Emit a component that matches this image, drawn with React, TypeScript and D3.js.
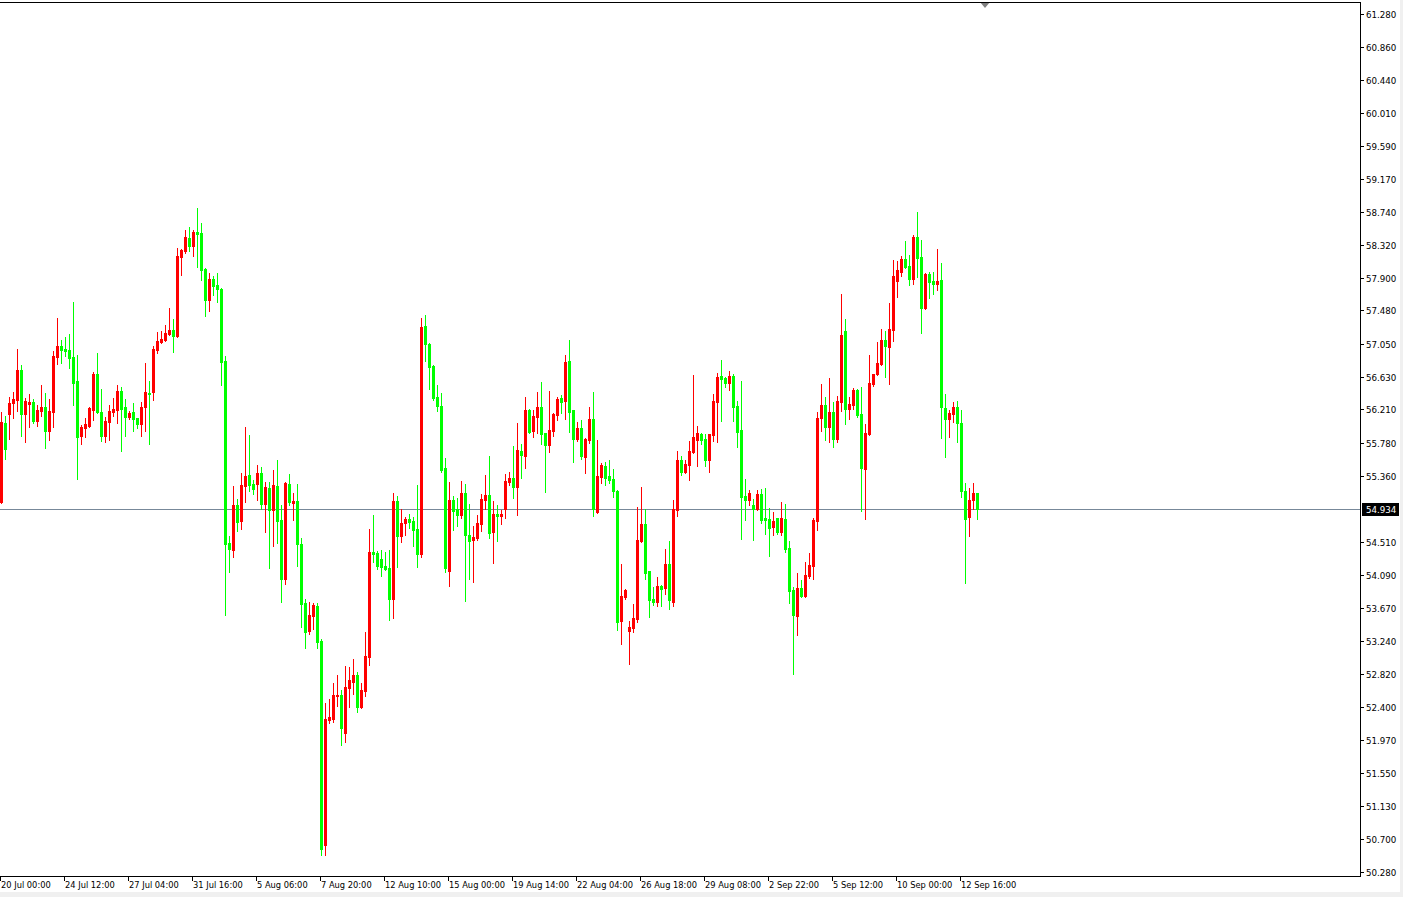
import React from "react";
import * as d3 from "d3";

// H4 candles (price units)
const opens = [
  55.02, 56.04, 56.15, 56.29, 56.33, 56.71, 56.15, 56.28, 56.31, 56.06,
  56.19, 56.24, 55.93, 56.18, 56.88, 57.02, 56.98, 56.97, 56.88, 56.57,
  55.87, 55.97, 56.00, 56.20, 56.66, 56.18, 55.87, 56.05, 56.18, 56.20,
  56.45, 56.24, 56.11, 56.18, 56.10, 56.02, 56.24, 56.42, 56.43, 56.97,
  57.07, 57.10, 57.18, 57.23, 57.15, 58.16, 58.24, 58.41, 58.31, 58.49,
  58.47, 58.01, 57.61, 57.88, 57.81, 57.75, 56.83, 54.50, 54.41, 54.98,
  54.78, 55.23, 55.37, 55.25, 55.25, 55.40, 55.00, 55.20, 54.92, 55.23,
  54.79, 54.04, 55.25, 55.01, 55.04, 54.48, 53.73, 53.37, 53.56, 53.69,
  53.24, 50.63, 52.23, 52.24, 52.54, 52.55, 52.06, 52.64, 52.72, 52.80,
  52.39, 52.60, 53.04, 54.38, 54.37, 54.29, 54.20, 54.18, 53.78, 55.04,
  54.59, 54.75, 54.81, 54.78, 54.68, 54.36, 57.28, 57.05, 56.77, 56.37,
  56.25, 55.46, 54.14, 55.05, 54.93, 54.86, 55.14, 54.60, 54.54, 54.56,
  54.74, 55.05, 55.11, 54.64, 54.87, 54.84, 54.93, 55.28, 55.33, 55.22,
  55.68, 55.61, 56.20, 55.93, 56.11, 56.24, 55.91, 55.75, 55.93, 56.14,
  56.36, 56.32, 56.83, 56.20, 55.83, 55.97, 55.60, 55.82, 56.09, 54.89,
  55.34, 55.49, 55.36, 55.32, 55.17, 53.50, 53.81, 53.37, 53.41, 53.52,
  54.52, 54.74, 54.14, 53.78, 53.74, 53.95, 53.92, 54.23, 53.74, 54.92,
  55.56, 55.41, 55.50, 55.66, 55.82, 55.90, 55.83, 55.56, 55.88, 56.31,
  56.64, 56.61, 56.55, 56.64, 56.25, 55.95, 55.10, 55.05, 54.98, 54.93,
  55.13, 54.82, 54.81, 54.70, 54.82, 54.64, 54.81, 54.43, 53.90, 53.56,
  53.92, 53.82, 54.07, 54.20, 54.78, 56.10, 56.27, 55.98, 56.18, 55.83,
  56.31, 57.22, 56.22, 56.27, 56.46, 56.15, 55.45, 55.90, 56.54, 56.66,
  56.79, 57.10, 57.01, 57.23, 57.86, 57.97, 58.14, 58.05, 57.88, 58.42,
  58.16, 57.51, 57.95, 57.86, 57.82, 57.87, 56.23, 56.09, 56.15, 56.24,
  56.04, 55.17, 54.83, 55.05, 55.14,
];

const highs = [
  56.18, 56.13, 56.37, 56.43, 56.98, 56.78, 56.36, 56.41, 56.34, 56.27,
  56.52, 56.42, 56.34, 56.96, 57.38, 57.10, 57.14, 57.18, 57.59, 56.91,
  56.01, 56.10, 56.24, 56.69, 56.93, 56.47, 56.11, 56.27, 56.36, 56.52,
  56.50, 56.34, 56.19, 56.29, 56.10, 56.31, 56.81, 56.57, 57.02, 57.20,
  57.22, 57.29, 57.51, 57.37, 58.28, 58.27, 58.51, 58.55, 58.51, 58.79,
  58.60, 58.02, 57.96, 57.92, 57.96, 57.77, 56.90, 54.59, 55.23, 55.06,
  55.40, 55.98, 55.88, 55.31, 55.50, 55.47, 55.28, 55.28, 55.43, 55.56,
  54.98, 55.28, 55.38, 55.14, 55.25, 54.56, 53.78, 53.74, 53.73, 53.73,
  53.27, 52.45, 52.50, 52.70, 52.80, 52.61, 52.92, 52.91, 53.01, 52.84,
  52.70, 53.36, 54.68, 54.86, 54.40, 54.41, 54.38, 54.41, 55.14, 55.10,
  54.93, 54.83, 54.87, 54.83, 55.24, 57.38, 57.42, 57.06, 56.78, 56.52,
  56.42, 55.59, 55.28, 55.10, 55.07, 55.29, 55.25, 55.00, 54.71, 54.86,
  55.13, 55.37, 55.61, 55.04, 54.98, 54.92, 55.38, 55.41, 55.74, 56.04,
  55.77, 56.37, 56.22, 56.20, 56.43, 56.56, 55.91, 56.45, 56.16, 56.37,
  56.40, 56.91, 57.10, 56.20, 56.05, 56.07, 55.84, 56.24, 56.43, 55.82,
  55.52, 55.54, 55.56, 55.45, 55.18, 54.23, 53.91, 53.50, 53.72, 54.96,
  55.22, 54.93, 54.14, 53.93, 54.06, 53.96, 54.42, 54.52, 55.05, 55.68,
  55.61, 55.56, 55.81, 56.65, 56.00, 55.91, 55.90, 55.90, 56.41, 56.68,
  56.84, 56.63, 56.70, 56.66, 56.32, 56.57, 55.32, 55.18, 55.06, 55.18,
  55.19, 55.20, 54.95, 54.89, 54.82, 55.02, 55.00, 54.52, 53.93, 54.11,
  54.02, 54.25, 54.37, 54.82, 56.18, 56.54, 56.37, 56.61, 56.31, 56.38,
  57.69, 57.37, 56.37, 56.49, 56.47, 56.50, 56.02, 56.91, 56.66, 57.07,
  57.24, 57.22, 57.57, 58.13, 58.11, 58.18, 58.37, 58.19, 58.45, 58.74,
  58.38, 57.96, 57.97, 57.97, 58.27, 58.09, 56.41, 56.20, 56.31, 56.32,
  56.20, 55.27, 55.20, 55.27, 55.14,
];

const lows = [
  55.01, 55.57, 55.83, 56.10, 56.19, 55.87, 55.79, 55.98, 56.04, 56.00,
  56.13, 55.72, 55.82, 55.98, 56.79, 56.80, 56.90, 56.74, 56.27, 55.32,
  55.77, 55.86, 55.99, 56.07, 56.16, 55.81, 55.79, 55.82, 56.13, 56.04,
  55.68, 55.87, 56.09, 55.93, 55.97, 55.87, 55.93, 55.77, 56.33, 56.93,
  57.06, 57.09, 57.17, 56.95, 57.14, 57.93, 58.22, 58.24, 58.18, 58.04,
  57.87, 57.41, 57.47, 57.68, 57.59, 56.52, 53.57, 54.13, 54.32, 54.65,
  54.68, 55.02, 55.17, 55.13, 55.05, 54.93, 54.64, 54.18, 54.46, 54.50,
  53.74, 53.97, 54.98, 54.79, 54.20, 53.42, 53.15, 53.33, 53.40, 53.15,
  50.50, 50.50, 52.19, 52.20, 52.41, 51.91, 51.95, 52.40, 52.56, 52.33,
  52.38, 52.54, 52.93, 54.25, 54.16, 54.07, 54.15, 53.51, 53.54, 54.19,
  54.51, 54.60, 54.69, 54.46, 54.19, 54.32, 56.83, 56.47, 56.33, 56.19,
  55.41, 54.13, 53.95, 54.66, 54.71, 54.82, 53.75, 54.04, 54.00, 54.54,
  54.65, 54.93, 54.56, 54.24, 54.52, 54.74, 54.82, 55.24, 55.07, 54.86,
  55.33, 55.46, 55.91, 55.86, 55.91, 55.77, 55.15, 55.66, 55.87, 56.07,
  56.16, 56.09, 55.92, 55.54, 55.81, 55.57, 55.40, 55.78, 54.84, 54.88,
  55.27, 55.24, 55.27, 55.09, 53.38, 53.20, 53.78, 52.95, 53.36, 53.48,
  54.51, 54.04, 53.55, 53.70, 53.69, 53.69, 53.84, 53.65, 53.69, 54.84,
  55.37, 55.40, 55.31, 55.65, 55.48, 55.77, 55.48, 55.41, 55.81, 55.79,
  56.06, 56.50, 56.46, 56.06, 55.73, 54.55, 54.79, 54.98, 54.54, 54.92,
  54.75, 54.61, 54.33, 54.60, 54.61, 54.60, 54.38, 53.73, 52.82, 53.32,
  53.81, 53.81, 54.05, 54.04, 54.66, 55.93, 55.82, 55.79, 55.73, 55.79,
  56.19, 56.02, 56.09, 56.22, 56.11, 54.91, 54.81, 55.88, 56.51, 56.65,
  56.78, 56.63, 56.54, 57.09, 57.65, 57.92, 58.03, 57.81, 57.82, 57.91,
  57.19, 57.50, 57.64, 57.69, 57.74, 55.84, 55.60, 55.86, 56.05, 55.79,
  55.09, 53.99, 54.59, 54.93, 54.81,
];

const closes = [
  56.05, 55.70, 56.29, 56.34, 56.71, 56.15, 56.32, 56.31, 56.06, 56.20,
  56.24, 55.93, 56.19, 56.90, 57.02, 56.97, 56.96, 56.87, 56.55, 55.86,
  55.98, 56.02, 56.23, 56.66, 56.18, 55.87, 56.06, 56.19, 56.22, 56.45,
  56.22, 56.11, 56.16, 56.09, 56.02, 56.24, 56.43, 56.41, 56.98, 57.09,
  57.11, 57.19, 57.23, 57.15, 58.18, 58.25, 58.42, 58.31, 58.49, 58.46,
  58.00, 57.61, 57.88, 57.79, 57.75, 56.82, 54.48, 54.42, 54.98, 54.77,
  55.24, 55.36, 55.24, 55.19, 55.40, 55.00, 55.22, 54.92, 55.24, 54.78,
  54.04, 55.27, 55.02, 55.04, 54.48, 53.72, 53.36, 53.57, 53.70, 53.23,
  50.57, 52.24, 52.27, 52.55, 52.55, 52.12, 52.65, 52.74, 52.80, 52.39,
  52.61, 53.05, 54.38, 54.36, 54.20, 54.19, 54.16, 53.78, 55.04, 54.59,
  54.75, 54.81, 54.77, 54.67, 54.36, 57.27, 57.05, 56.75, 56.36, 56.25,
  55.43, 54.18, 55.05, 54.91, 54.86, 55.14, 54.60, 54.52, 54.57, 54.75,
  55.06, 55.11, 54.63, 54.87, 54.84, 54.87, 55.29, 55.33, 55.22, 55.69,
  55.63, 56.20, 55.92, 56.13, 56.24, 55.90, 55.75, 55.95, 56.15, 56.34,
  56.31, 56.82, 56.18, 55.83, 55.97, 55.61, 55.83, 56.09, 54.93, 55.36,
  55.50, 55.33, 55.31, 55.17, 53.48, 53.82, 53.90, 53.42, 53.54, 54.54,
  54.74, 54.11, 53.77, 53.74, 53.95, 53.91, 54.23, 53.77, 54.93, 55.56,
  55.41, 55.51, 55.68, 55.86, 55.91, 55.82, 55.56, 55.90, 56.32, 56.63,
  56.60, 56.55, 56.64, 56.24, 55.92, 55.09, 55.05, 55.14, 54.93, 55.13,
  54.79, 54.79, 54.69, 54.78, 54.64, 54.82, 54.42, 53.88, 53.57, 53.92,
  53.82, 54.09, 54.22, 54.79, 56.10, 56.27, 55.98, 56.18, 55.83, 56.32,
  57.16, 56.22, 56.28, 56.46, 56.14, 55.46, 55.91, 56.55, 56.66, 56.81,
  57.10, 57.02, 57.24, 57.92, 58.00, 58.14, 58.04, 57.88, 58.42, 58.15,
  57.51, 57.95, 57.84, 57.82, 57.86, 56.24, 56.09, 56.16, 56.24, 56.04,
  55.17, 54.81, 55.05, 55.14, 54.934,
];

const priceTicks = [
  61.28, 60.86, 60.44, 60.01, 59.59, 59.17, 58.74, 58.32, 57.9, 57.48,
  57.05, 56.63, 56.21, 55.78, 55.36, 54.51, 54.09, 53.67, 53.24, 52.82,
  52.4, 51.97, 51.55, 51.13, 50.7, 50.28,
];

const timeLabels = [
  "20 Jul 00:00", "24 Jul 12:00", "27 Jul 04:00", "31 Jul 16:00",
  "5 Aug 06:00", "7 Aug 20:00", "12 Aug 10:00", "15 Aug 00:00",
  "19 Aug 14:00", "22 Aug 04:00", "26 Aug 18:00", "29 Aug 08:00",
  "2 Sep 22:00", "5 Sep 12:00", "10 Sep 00:00", "12 Sep 16:00",
];
const labelStep = 16; // one time label every 16 bars

const bid = 54.934;

const W = 1403;
const H = 897;
const plotRight = 1360;
const plotTop = 2;
const plotBottom = 876;
const barStep = 4;

const UP = "#ff0000";
const DOWN = "#00ff00";
const FONT = "'DejaVu Sans', sans-serif";

const App: React.FC = () => {
  const y = d3.scaleLinear().domain([50.28, 61.28]).range([872, 14]);
  const x = (i: number) => i * barStep;
  const fmt = d3.format(".3f");

  const bars = opens.map((o, i) => ({ o, h: highs[i], l: lows[i], c: closes[i], i }));
  const bidY = Math.round(y(bid));
  const markX = x(bars.length + 1) + 1;

  return (
    <div style={{ position: "absolute", left: 0, top: 0 }}>
      <svg width={W} height={H} style={{ display: "block" }} shapeRendering="crispEdges">
        <rect x={0} y={0} width={W} height={H} fill="#ffffff" />
        <rect x={0} y={892} width={W} height={H - 892} fill="#f0f0f0" />
        <rect x={1400} y={0} width={W - 1400} height={892} fill="#f0f0f0" />

        {/* bid line */}
        <line x1={0} x2={plotRight} y1={bidY + 0.5} y2={bidY + 0.5} stroke="#778899" strokeWidth={1} />

        {/* candles: red = rising bar, green = falling bar */}
        {bars.map((b) => {
          const col = b.c >= b.o ? UP : DOWN;
          const top = Math.round(y(Math.max(b.o, b.c)));
          const bot = Math.round(y(Math.min(b.o, b.c)));
          const hy = Math.round(y(b.h));
          const ly = Math.round(y(b.l));
          return (
            <g key={b.i}>
              <rect x={x(b.i) + 1} y={hy} width={1} height={Math.max(1, ly - hy + 1)} fill={col} />
              <rect x={x(b.i)} y={top} width={3} height={Math.max(1, bot - top + 1)} fill={col} />
            </g>
          );
        })}

        {/* chart shift marker */}
        <path d={`M${markX - 5},${plotTop} L${markX + 5},${plotTop} L${markX},${plotTop + 6} Z`} fill="#808080" shapeRendering="auto" />

        {/* frame */}
        <line x1={0} x2={plotRight} y1={plotTop + 0.5} y2={plotTop + 0.5} stroke="#000" />
        <line x1={0} x2={plotRight + 1} y1={plotBottom + 0.5} y2={plotBottom + 0.5} stroke="#000" />
        <line x1={plotRight + 0.5} x2={plotRight + 0.5} y1={plotTop} y2={plotBottom + 1} stroke="#000" />

        {/* price axis */}
        {priceTicks.map((p) => {
          const ty = Math.round(y(p));
          return (
            <g key={p}>
              <line x1={plotRight} x2={plotRight + 4} y1={ty + 0.5} y2={ty + 0.5} stroke="#000" />
              <text x={plotRight + 6} y={ty + 3.5} fontFamily={FONT} fontSize={8.7} fill="#000">
                {fmt(p)}
              </text>
            </g>
          );
        })}
        <rect x={plotRight + 2} y={bidY - 6} width={37} height={13} fill="#000" />
        <text x={plotRight + 6} y={bidY + 3.5} fontFamily={FONT} fontSize={8.7} fill="#fff">
          {fmt(bid)}
        </text>

        {/* time axis */}
        {timeLabels.map((t, k) => {
          const tx = x(k * labelStep);
          return (
            <g key={t}>
              <line x1={tx + 0.5} x2={tx + 0.5} y1={plotBottom} y2={plotBottom + 5} stroke="#000" />
              <text x={tx + 1} y={888} fontFamily={FONT} fontSize={8.3} fill="#000">
                {t}
              </text>
            </g>
          );
        })}
      </svg>
    </div>
  );
};

export default App;
